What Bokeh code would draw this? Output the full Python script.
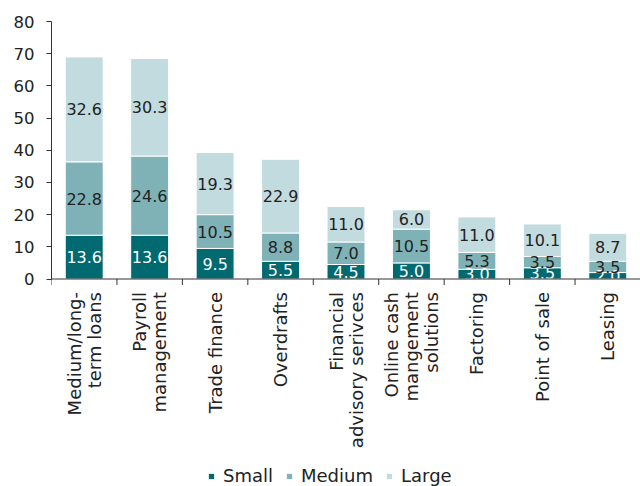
from bokeh.plotting import figure
from bokeh.models import ColumnDataSource, FixedTicker, Legend, LegendItem, Range1d, LabelSet, Span
from bokeh.core.properties import value
from bokeh.embed import file_html
from bokeh.resources import INLINE
import math

categories = ["Medium/long-\nterm loans", "Payroll\nmanagement", "Trade finance", "Overdrafts",
              "Financial\nadvisory serivces", "Online cash\nmangement\nsolutions", "Factoring",
              "Point of sale", "Leasing"]
small = [13.6, 13.6, 9.5, 5.5, 4.5, 5.0, 3.0, 3.5, 2.0]
medium = [22.8, 24.6, 10.5, 8.8, 7.0, 10.5, 5.3, 3.5, 3.5]
large = [32.6, 30.3, 19.3, 22.9, 11.0, 6.0, 11.0, 10.1, 8.7]
series_names = ["Small", "Medium", "Large"]
y_ticks = [0, 10, 20, 30, 40, 50, 60, 70, 80]

colors = ["#006a70", "#7fb2b6", "#c1dbdf"]
text_colors = ["white", "#222222", "#222222"]
FONT = "DejaVu Sans"

# layout in pixels
W, H = 640, 486
TOP, ZERO_PX = 21, 278.5
YMAX = 80
px_per_unit = (ZERO_PX - TOP) / YMAX
y_min = -(H - ZERO_PX) / px_per_unit
LINE_GAP = 20  # px between wrapped label lines

xs = [i + 0.5 for i in range(len(categories))]
edges = list(range(len(categories) + 1))
bottoms_m = small
bottoms_l = [s + m for s, m in zip(small, medium)]

p = figure(width=W, height=H, output_backend="svg", toolbar_location=None,
           x_range=Range1d(0, len(categories)), y_range=Range1d(y_min, YMAX),
           x_axis_location=None,
           min_border_left=51, min_border_right=0, min_border_top=TOP, min_border_bottom=0)
p.outline_line_color = None
p.grid.grid_line_color = None
p.background_fill_color = "white"

renderers = []
for vals, bots, col in [(small, [0] * len(small), colors[0]),
                        (medium, bottoms_m, colors[1]),
                        (large, bottoms_l, colors[2])]:
    src = ColumnDataSource(dict(x=xs, bottom=bots, top=[b + v for b, v in zip(bots, vals)],
                                mid=[b + v / 2 for b, v in zip(bots, vals)],
                                lab=["%.1f" % v for v in vals]))
    r = p.vbar(x="x", bottom="bottom", top="top", width=0.58, source=src,
               fill_color=col, line_color="white", line_width=1)
    renderers.append((r, src))

for (r, src), tc in zip(renderers, text_colors):
    p.text(x="x", y="mid", text="lab", source=src, text_align="center", text_baseline="middle",
           text_color=tc, text_font=value(FONT), text_font_size="16px")

# x axis line and boundary ticks
p.add_layout(Span(location=0, dimension="width", line_color="#333333", line_width=1))
tick_len = 6 / px_per_unit
p.segment(x0=edges, x1=edges, y0=[0] * len(edges), y1=[-tick_len] * len(edges),
          line_color="#333333", line_width=1)

# category labels: one rotated, end-aligned text per wrapped line
lx, ly, lt, loff = [], [], [], []
for x, c in zip(xs, categories):
    lines = c.split("\n")
    n = len(lines)
    for k, ln in enumerate(lines):
        lx.append(x)
        ly.append(0)
        lt.append(ln)
        loff.append((k - (n - 1) / 2) * LINE_GAP)
cat_src = ColumnDataSource(dict(x=lx, y=ly, t=lt, xo=loff))
cat_labels = LabelSet(x="x", y="y", text="t", source=cat_src, angle=math.pi / 2,
                      x_offset="xo", y_offset=-13, text_align="right", text_baseline="middle",
                      text_font=value(FONT), text_font_size="18px", text_color="#222222")
p.add_layout(cat_labels)

yax = p.yaxis[0]
yax.ticker = FixedTicker(ticks=y_ticks)
yax.bounds = (0, YMAX)
yax.major_tick_out = 5
yax.major_tick_in = 0
yax.minor_tick_out = 0
yax.minor_tick_in = 0
yax.axis_line_color = "#333333"
yax.major_tick_line_color = "#333333"
yax.major_label_text_font = FONT
yax.major_label_text_font_size = "16.5px"
yax.major_label_text_color = "#222222"
yax.major_label_standoff = 12

legend = Legend(items=[LegendItem(label=n, renderers=[r]) for n, (r, _) in zip(series_names, renderers)],
                orientation="horizontal", location=(156, 0),
                glyph_width=8, glyph_height=8, label_standoff=8, spacing=12,
                label_text_font=FONT, label_text_font_size="18px", label_text_color="#222222",
                border_line_color=None, background_fill_alpha=0, padding=0, margin=0)
p.add_layout(legend, "center")

open("out.html", "w").write(file_html(p, INLINE))
